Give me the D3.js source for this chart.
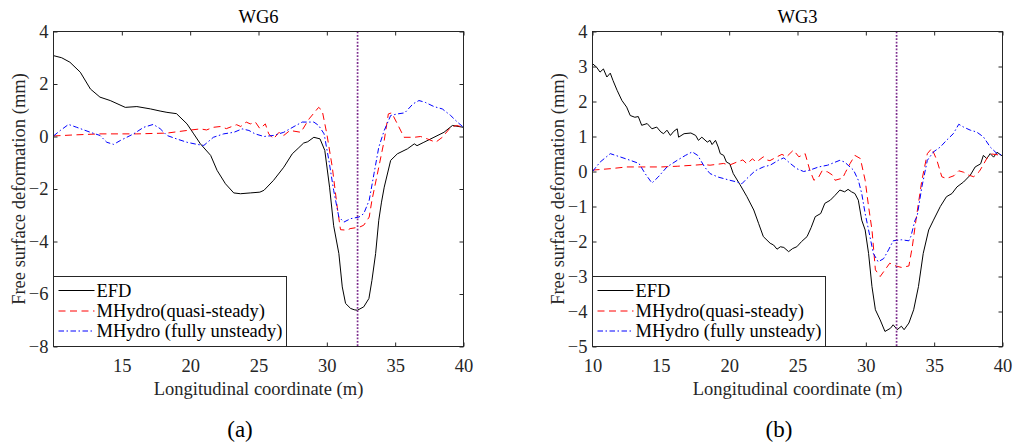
<!DOCTYPE html>
<html>
<head>
<meta charset="utf-8">
<script src="https://cdn.jsdelivr.net/npm/d3@7"></script>
<style>
  body { margin: 0; background: #fff; }
  text { font-family: "Liberation Serif", "Times New Roman", serif; }
</style>
</head>
<body>
<svg id="fig" width="1018" height="443"></svg>
<script>
// ---- Data: longitudinal coordinate (m), free surface deformation (mm) ----
const seriesNames = ["EFD", "MHydro(quasi-steady)", "MHydro (fully unsteady)"];
const gaugeNames = ["WG6", "WG3"];
const panelTags = ["(a)", "(b)"];
const shipPosition = 32.25; // dotted marker line

const xTicksWG6 = [15, 20, 25, 30, 35, 40];
const yTicksWG6 = [-8, -6, -4, -2, 0, 2, 4];
const xTicksWG3 = [10, 15, 20, 25, 30, 35, 40];
const yTicksWG3 = [-5, -4, -3, -2, -1, 0, 1, 2, 3, 4];

const wg6Efd = [
  [10,3.08],[10.6,3.0],[11.2,2.83],[11.96,2.45],[12.7,1.81],[13.4,1.5],[14.15,1.37],[15.25,1.11],
  [16.1,1.14],[17.1,1.05],[17.8,0.97],[18.3,0.92],[19.0,0.87],[19.77,0.48],[20.26,0.1],[20.75,-0.28],
  [21.5,-0.72],[21.97,-1.29],[22.58,-1.8],[23.19,-2.15],[23.68,-2.18],[24.4,-2.15],[25.1,-2.12],
  [25.4,-2.05],[26.1,-1.67],[26.85,-1.17],[27.47,-0.66],[27.9,-0.45],[28.3,-0.25],[28.6,-0.2],
  [29.05,-0.03],[29.5,-0.09],[29.85,-0.53],[30.2,-1.93],[30.5,-3.4],[30.88,-4.46],[31.13,-5.73],
  [31.37,-6.36],[31.74,-6.55],[32.0,-6.6],[32.23,-6.62],[32.7,-6.49],[33.08,-6.17],[33.3,-5.48],
  [33.57,-4.46],[33.8,-3.19],[34.0,-2.5],[34.2,-1.93],[34.67,-0.91],[35.16,-0.66],[35.9,-0.47],
  [36.4,-0.28],[36.6,-0.35],[37.1,-0.22],[37.84,-0.03],[38.57,0.16],[39.19,0.42],[40,0.35]
];
const wg6Quasi = [
  [10,0.02],[11.5,0.06],[13.4,0.1],[16.1,0.1],[18.3,0.13],[19.77,0.23],[20.75,0.29],[21.2,0.25],
  [21.7,0.35],[22.2,0.38],[22.65,0.3],[23.4,0.45],[23.7,0.38],[24.1,0.55],[24.4,0.48],[24.77,0.55],
  [25.1,0.3],[25.5,0.48],[25.75,0.1],[26.1,-0.09],[26.5,0.16],[26.85,0.04],[27.3,0.23],[28.1,0.16],
  [28.7,0.67],[29.4,1.11],[29.66,0.99],[30.0,0.1],[30.4,-1.17],[30.76,-2.69],[31.0,-3.55],
  [31.5,-3.57],[31.7,-3.51],[32.4,-3.45],[32.7,-3.38],[33.1,-3.07],[33.3,-2.43],[33.8,-1.17],
  [34.2,-0.15],[34.5,0.86],[34.75,0.9],[35.16,0.48],[35.65,-0.03],[36.4,-0.03],[36.86,0],
  [37.35,-0.09],[37.96,-0.22],[38.45,-0.03],[39.06,0.35],[39.5,0.42],[40,0.35]
];
const wg6Unsteady = [
  [10,0.02],[10.5,0.23],[11.1,0.46],[11.7,0.35],[12.7,0.16],[13.4,0.04],[13.9,-0.22],[14.4,-0.3],
  [14.9,-0.15],[15.86,0.1],[16.6,0.35],[17.3,0.46],[17.8,0.3],[18.3,0.04],[19.0,-0.09],[19.77,-0.22],
  [20.5,-0.3],[21.0,-0.34],[21.7,-0.03],[22.45,0.1],[23.2,0.16],[23.8,0.29],[24.3,0.23],[24.75,0.1],
  [25.4,0],[26.1,0.04],[26.85,0.16],[27.6,0.38],[28.2,0.55],[29.05,0.55],[29.4,0.42],[29.8,0.1],
  [30.15,-0.91],[30.5,-2.05],[30.88,-3.07],[31.25,-3.26],[31.74,-3.13],[32.35,-3.07],[32.7,-2.94],
  [33.1,-2.43],[33.45,-1.42],[33.8,-0.41],[34.2,0.23],[34.67,0.8],[35.16,0.86],[35.7,0.9],
  [36.3,1.24],[36.74,1.37],[37.2,1.3],[37.84,1.14],[38.45,1.05],[39.06,0.8],[39.55,0.55],[40,0.35]
];

const wg3Efd = [
  [10,3.08],[10.3,2.98],[10.55,2.84],[10.8,2.93],[11.05,2.7],[11.3,2.81],[11.5,2.6],[11.8,2.32],
  [12.15,2.03],[12.5,1.84],[12.76,1.6],[13.1,1.55],[13.35,1.57],[13.6,1.32],[14.0,1.37],[14.35,1.22],
  [14.7,1.27],[15.0,1.13],[15.2,1.08],[15.45,1.18],[15.7,1.03],[15.95,1.15],[16.2,1.22],[16.3,0.98],
  [16.7,1.08],[17.2,1.1],[17.55,1.03],[17.75,0.89],[18.0,0.98],[18.4,0.84],[18.6,0.89],[18.75,0.77],
  [19.0,0.89],[19.2,0.7],[19.35,0.51],[19.6,0.46],[19.8,0.27],[20.05,0.22],[20.3,-0.06],[20.8,-0.38],
  [21.3,-0.72],[21.8,-1.1],[22.15,-1.48],[22.5,-1.86],[23.0,-2.05],[23.25,-2.1],[23.5,-2.22],
  [23.75,-2.15],[24.0,-2.17],[24.35,-2.29],[24.65,-2.2],[24.95,-2.15],[25.3,-2.0],[25.7,-1.86],
  [26.0,-1.6],[26.3,-1.29],[26.7,-1.2],[27.0,-0.91],[27.4,-0.82],[27.75,-0.68],[28.1,-0.53],
  [28.45,-0.58],[28.7,-0.51],[28.95,-0.58],[29.2,-0.63],[29.45,-0.82],[29.7,-1.39],[29.95,-1.67],
  [30.2,-2.34],[30.45,-3.29],[30.7,-3.95],[31.05,-4.24],[31.4,-4.57],[31.8,-4.48],[32.0,-4.38],
  [32.3,-4.52],[32.6,-4.42],[32.8,-4.52],[33.15,-4.33],[33.5,-3.95],[33.85,-3.29],[34.2,-2.34],
  [34.6,-1.67],[34.95,-1.39],[35.45,-1.0],[35.9,-0.72],[36.3,-0.63],[36.67,-0.44],[37.15,-0.3],
  [37.65,-0.1],[38.0,0.13],[38.4,0.22],[38.6,0.46],[38.85,0.37],[39.1,0.51],[39.35,0.41],
  [39.6,0.55],[40,0.44]
];
const wg3Quasi = [
  [10,0.04],[11.3,0.08],[12.5,0.13],[15,0.13],[16.2,0.15],[17.4,0.18],[18.1,0.2],[18.6,0.18],
  [19.6,0.23],[20.0,0.18],[20.57,0.27],[21.0,0.33],[21.3,0.22],[21.7,0.36],[22.0,0.27],[22.5,0.42],
  [22.75,0.33],[22.98,0.31],[23.5,0.42],[23.86,0.49],[24.2,0.42],[24.7,0.61],[25.1,0.42],[25.56,0.51],
  [25.9,0.04],[26.2,-0.25],[26.55,-0.16],[26.8,0.02],[27.2,-0.01],[27.55,-0.1],[27.75,-0.25],
  [28.3,-0.19],[28.5,-0.03],[28.85,0.23],[29.2,0.46],[29.6,0.37],[29.95,-0.25],[30.2,-1.0],
  [30.45,-1.67],[30.7,-2.81],[31.05,-3.0],[31.4,-2.81],[31.75,-2.62],[32.2,-2.7],[32.6,-2.74],
  [33.15,-2.7],[33.4,-2.15],[33.7,-1.3],[34.1,-0.25],[34.5,0.51],[34.83,0.66],[35.2,0.32],
  [35.56,-0.15],[35.9,-0.2],[36.45,-0.12],[36.8,0.02],[37.15,-0.02],[37.5,-0.1],[37.9,-0.15],
  [38.3,0.0],[38.5,0.13],[38.85,0.37],[39.2,0.5],[39.6,0.48],[40,0.44]
];
const wg3Unsteady = [
  [10,0.0],[10.56,0.27],[11.3,0.51],[12.0,0.42],[12.76,0.32],[13.4,0.23],[13.85,-0.06],[14.35,-0.33],
  [14.8,-0.16],[15.45,0.13],[16.2,0.32],[16.8,0.46],[17.3,0.56],[17.7,0.46],[18.2,0.13],[18.6,-0.06],
  [19.2,-0.16],[20.05,-0.25],[20.57,-0.3],[20.93,-0.35],[21.3,-0.2],[21.9,0.02],[22.5,0.13],[23.0,0.18],
  [23.6,0.32],[24.0,0.39],[24.47,0.23],[24.95,0.08],[25.45,0.0],[25.9,0.04],[26.55,0.13],[27.2,0.18],
  [27.65,0.25],[28.1,0.32],[28.45,0.27],[28.7,0.18],[29.1,0.04],[29.45,-0.25],[29.7,-0.63],
  [29.95,-1.2],[30.2,-1.67],[30.3,-1.86],[30.55,-2.34],[30.9,-2.58],[31.3,-2.49],[31.66,-2.24],
  [32.0,-1.98],[32.6,-1.95],[33.15,-1.98],[33.3,-1.85],[33.6,-1.39],[33.75,-1.29],[34.1,-0.44],
  [34.5,0.32],[34.95,0.56],[35.45,0.7],[35.9,0.89],[36.4,1.08],[36.8,1.35],[37.15,1.27],
  [37.65,1.18],[38.1,1.13],[38.6,0.99],[39.1,0.7],[39.6,0.51],[40,0.46]
];

// ---- Styles for the three series ----
const lineStyles = [
  { color: "#000000", dash: null },
  { color: "#ff0000", dash: "7,4.5" },
  { color: "#0000ff", dash: "5.5,2.5,1.5,2.5" }
];

const svg = d3.select("#fig");
svg.append("rect").attr("width", 1018).attr("height", 443).attr("fill", "#fff");

const axisColor = "#262626";
const fontSize = 18.5;

function drawPanel(cfg) {
  const { id, left, right, top, bottom, yDomain, xTicks, yTicks, title, series, tag, tagX, yLabelX } = cfg;
  const x = d3.scaleLinear().domain([10, 40]).range([left, right]);
  const y = d3.scaleLinear().domain(yDomain).range([bottom, top]);
  const g = svg.append("g");

  g.append("clipPath").attr("id", "clip-" + id)
    .append("rect").attr("x", left).attr("y", top)
    .attr("width", right - left).attr("height", bottom - top);

  const plot = g.append("g").attr("clip-path", `url(#clip-${id})`);
  const line = d3.line().x(d => x(d[0])).y(d => y(d[1]));

  series.forEach((s, i) => {
    const st = lineStyles[i];
    plot.append("path").datum(s)
      .attr("d", line)
      .attr("fill", "none")
      .attr("stroke", st.color)
      .attr("stroke-width", 1)
      .attr("stroke-dasharray", st.dash);
  });

  // vertical dotted marker
  plot.append("line")
    .attr("x1", x(shipPosition)).attr("x2", x(shipPosition))
    .attr("y1", top).attr("y2", bottom)
    .attr("stroke", "#7e2f8e").attr("stroke-width", 1.7)
    .attr("stroke-dasharray", "1.8,1.6");

  // axes (ticks point inward)
  const styleAxis = sel => {
    sel.select(".domain").remove();
    sel.selectAll(".tick line").attr("stroke", axisColor);
    sel.selectAll(".tick text").attr("fill", axisColor)
      .style("font-size", fontSize + "px")
      .style("font-family", '"Liberation Serif", "Times New Roman", serif');
  };
  g.append("g").attr("transform", `translate(0,${bottom})`)
    .call(d3.axisBottom(x).tickValues(xTicks).tickSizeInner(-4).tickSizeOuter(0).tickPadding(12))
    .call(styleAxis);
  g.append("g").attr("transform", `translate(0,${top})`)
    .call(d3.axisTop(x).tickValues(xTicks).tickSizeInner(-4).tickSizeOuter(0).tickFormat(""))
    .call(styleAxis);
  g.append("g").attr("transform", `translate(${left},0)`)
    .call(d3.axisLeft(y).tickValues(yTicks).tickSizeInner(-4).tickSizeOuter(0).tickPadding(5))
    .call(styleAxis);
  g.append("g").attr("transform", `translate(${right},0)`)
    .call(d3.axisRight(y).tickValues(yTicks).tickSizeInner(-4).tickSizeOuter(0).tickFormat(""))
    .call(styleAxis);

  // box
  g.append("rect").attr("x", left).attr("y", top)
    .attr("width", right - left).attr("height", bottom - top)
    .attr("fill", "none").attr("stroke", axisColor).attr("stroke-width", 1);

  // title
  g.append("text").attr("x", (left + right) / 2).attr("y", 23)
    .attr("text-anchor", "middle").style("font-size", fontSize + "px").attr("fill", "#000")
    .text(title);

  // axis labels
  g.append("text").attr("x", (left + right) / 2).attr("y", 395)
    .attr("text-anchor", "middle").style("font-size", fontSize + "px").attr("fill", axisColor)
    .text("Longitudinal coordinate (m)");
  g.append("text")
    .attr("transform", `translate(${yLabelX},${(top + bottom) / 2}) rotate(-90)`)
    .attr("text-anchor", "middle").style("font-size", fontSize + "px").attr("fill", axisColor)
    .text("Free surface deformation (mm)");

  // legend
  const lg = g.append("g");
  const lgTop = 276.5, lgW = 233;
  lg.append("rect").attr("x", left).attr("y", lgTop)
    .attr("width", lgW).attr("height", bottom - lgTop)
    .attr("fill", "#fff").attr("stroke", axisColor).attr("stroke-width", 1);
  const rowY = [290.5, 311, 331];
  seriesNames.forEach((name, i) => {
    const st = lineStyles[i];
    lg.append("line")
      .attr("x1", left + 5).attr("x2", left + 41)
      .attr("y1", rowY[i]).attr("y2", rowY[i])
      .attr("stroke", st.color).attr("stroke-width", 1)
      .attr("stroke-dasharray", st.dash);
    lg.append("text").attr("x", left + 43).attr("y", rowY[i]).attr("dy", "0.34em")
      .style("font-size", fontSize + "px").attr("fill", "#000").text(name);
  });

  // sub-figure tag
  svg.append("text").attr("x", tagX).attr("y", 437)
    .attr("text-anchor", "middle").style("font-size", "23px").attr("fill", "#000")
    .text(tag);
}

drawPanel({
  id: "wg6", left: 53.5, right: 463.5, top: 31.5, bottom: 346.5,
  yDomain: [-8, 4], xTicks: xTicksWG6, yTicks: yTicksWG6,
  title: gaugeNames[0], series: [wg6Efd, wg6Quasi, wg6Unsteady],
  tag: panelTags[0], tagX: 240, yLabelX: 25
});
drawPanel({
  id: "wg3", left: 592.5, right: 1002.5, top: 31.5, bottom: 346.5,
  yDomain: [-5, 4], xTicks: xTicksWG3, yTicks: yTicksWG3,
  title: gaugeNames[1], series: [wg3Efd, wg3Quasi, wg3Unsteady],
  tag: panelTags[1], tagX: 779, yLabelX: 564
});
</script>
</body>
</html>
